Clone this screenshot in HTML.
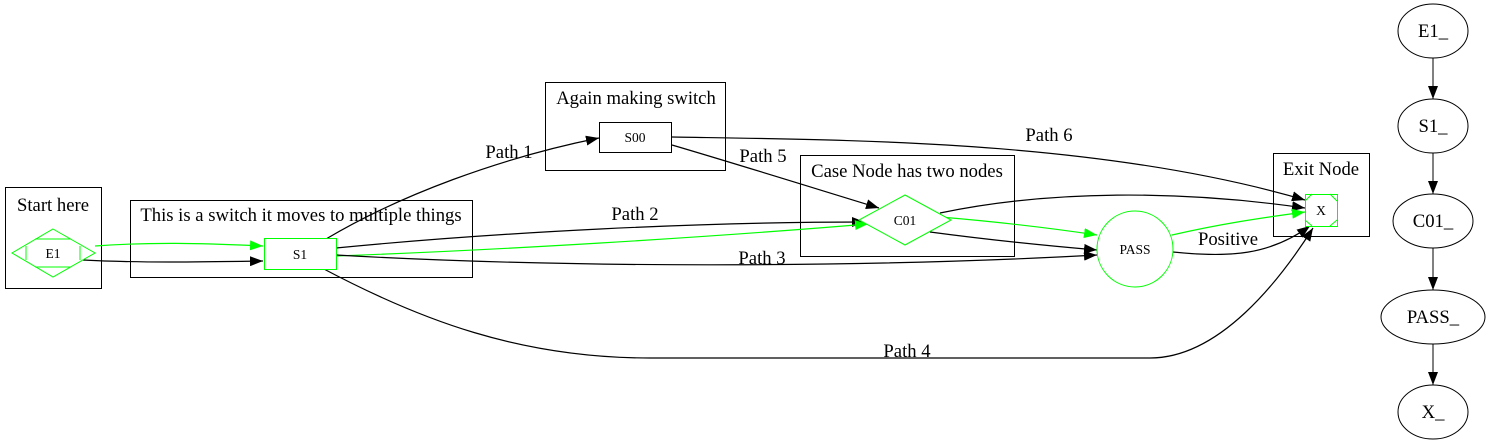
<!DOCTYPE html>
<html><head><meta charset="utf-8"><style>
html,body{margin:0;padding:0;background:#fff;}
svg{display:block;font-family:"Liberation Serif",serif;}
</style></head><body>
<svg width="1489" height="443" viewBox="0 0 1489 443" xmlns="http://www.w3.org/2000/svg">
<defs>
<marker id="ab" markerWidth="14" markerHeight="10" refX="13" refY="5" orient="auto" markerUnits="userSpaceOnUse"><path d="M0,0 L13,5 L0,10 z" fill="#000"/></marker>
<marker id="ag" markerWidth="14" markerHeight="10" refX="13" refY="5" orient="auto" markerUnits="userSpaceOnUse"><path d="M0,0 L13,5 L0,10 z" fill="#0f0"/></marker>
</defs>
<g fill="none" stroke="#000" stroke-width="1">
<rect x="5.5" y="187.5" width="96" height="101"/>
<rect x="130.5" y="200.5" width="342" height="77"/>
<rect x="545.5" y="82.5" width="180" height="88"/>
<rect x="800.5" y="155.5" width="214" height="101"/>
<rect x="1273.5" y="153.5" width="96" height="83"/>
</g>
<g font-size="18.67" text-anchor="middle" fill="#000">
<text x="53" y="211">Start here</text>
<text x="301" y="221">This is a switch it moves to multiple things</text>
<text x="636" y="104">Again making switch</text>
<text x="907" y="177">Case Node has two nodes</text>
<text x="1321" y="175">Exit Node</text>
<text x="509" y="158">Path 1</text>
<text x="763" y="162">Path 5</text>
<text x="1049" y="141">Path 6</text>
<text x="635" y="220">Path 2</text>
<text x="762" y="264">Path 3</text>
<text x="907" y="357">Path 4</text>
<text x="1228" y="245">Positive</text>
</g>
<g fill="none" stroke-width="1.2">
<path d="M95,246 C150,242 200,243 263,246" stroke="#0f0" marker-end="url(#ag)"/>
<path d="M83,260 C140,263 200,262 263,261" stroke="#000" marker-end="url(#ab)"/>
<path d="M326,239 C400,195 500,158 599,138" stroke="#000" marker-end="url(#ab)"/>
<path d="M672,145 C740,165 820,190 879,208" stroke="#000" marker-end="url(#ab)"/>
<path d="M672,137 C850,140 1100,140 1305,200" stroke="#000" marker-end="url(#ab)"/>
<path d="M336,248 C500,232 700,222 865,222" stroke="#000" marker-end="url(#ab)"/>
<path d="M336,256 C500,250 700,238 868,224" stroke="#0f0" marker-end="url(#ag)"/>
<path d="M336,255 C600,270 900,266 1097,255" stroke="#000" marker-end="url(#ab)"/>
<path d="M322,268 C420,320 520,358 650,358 L1150,358 C1220,358 1280,280 1313,228" stroke="#000" marker-end="url(#ab)"/>
<path d="M940,213 C1050,190 1180,190 1305,208" stroke="#000" marker-end="url(#ab)"/>
<path d="M940,217 C1000,222 1050,228 1097,235" stroke="#0f0" marker-end="url(#ag)"/>
<path d="M930,232 C990,240 1050,246 1097,250" stroke="#000" marker-end="url(#ab)"/>
<path d="M1172,235 C1220,224 1260,218 1305,212" stroke="#0f0" marker-end="url(#ag)"/>
<path d="M1173,252 C1230,258 1270,255 1310,226" stroke="#000" marker-end="url(#ab)"/>
</g>
<g fill="#fff" stroke="#0f0" stroke-width="1">
<polygon points="53,229 95,253 53,277 12,253"/>
<path d="M35,239 L71,239 M35,267 L71,267 M26,246 L26,260 M80,246 L80,260" fill="none"/>
<rect x="264.5" y="238.5" width="72" height="31"/>
<polygon points="905,195 951,220 905,245 859,220"/>
<circle cx="1135" cy="249" r="38"/>
<rect x="1305.5" y="194.5" width="32" height="32"/>
<path d="M1305,201 L1312,194 M1330,194 L1337,201 M1337,220 L1330,226 M1312,226 L1305,220" fill="none"/>
</g>
<rect x="599.5" y="122.5" width="72" height="30" fill="#fff" stroke="#000"/>
<g font-size="13.5" text-anchor="middle" fill="#000">
<text x="53" y="258">E1</text>
<text x="300" y="259">S1</text>
<text x="635" y="142">S00</text>
<text x="905" y="225">C01</text>
<text x="1135" y="254">PASS</text>
<text x="1321" y="215">X</text>
</g>
<g fill="none" stroke="#000" stroke-width="1">
<ellipse cx="1433" cy="31" rx="35" ry="27"/>
<ellipse cx="1433" cy="126" rx="35" ry="27"/>
<ellipse cx="1433" cy="221" rx="40" ry="27"/>
<ellipse cx="1433" cy="317" rx="52" ry="27"/>
<ellipse cx="1433" cy="412" rx="35" ry="27"/>
<path d="M1433,58 L1433,99" marker-end="url(#ab)"/>
<path d="M1433,153 L1433,194" marker-end="url(#ab)"/>
<path d="M1433,248 L1433,290" marker-end="url(#ab)"/>
<path d="M1433,344 L1433,385" marker-end="url(#ab)"/>
</g>
<g font-size="18.67" text-anchor="middle" fill="#000">
<text x="1433" y="37">E1_</text>
<text x="1433" y="132">S1_</text>
<text x="1433" y="227">C01_</text>
<text x="1433" y="323">PASS_</text>
<text x="1433" y="418">X_</text>
</g>
</svg>
</body></html>
